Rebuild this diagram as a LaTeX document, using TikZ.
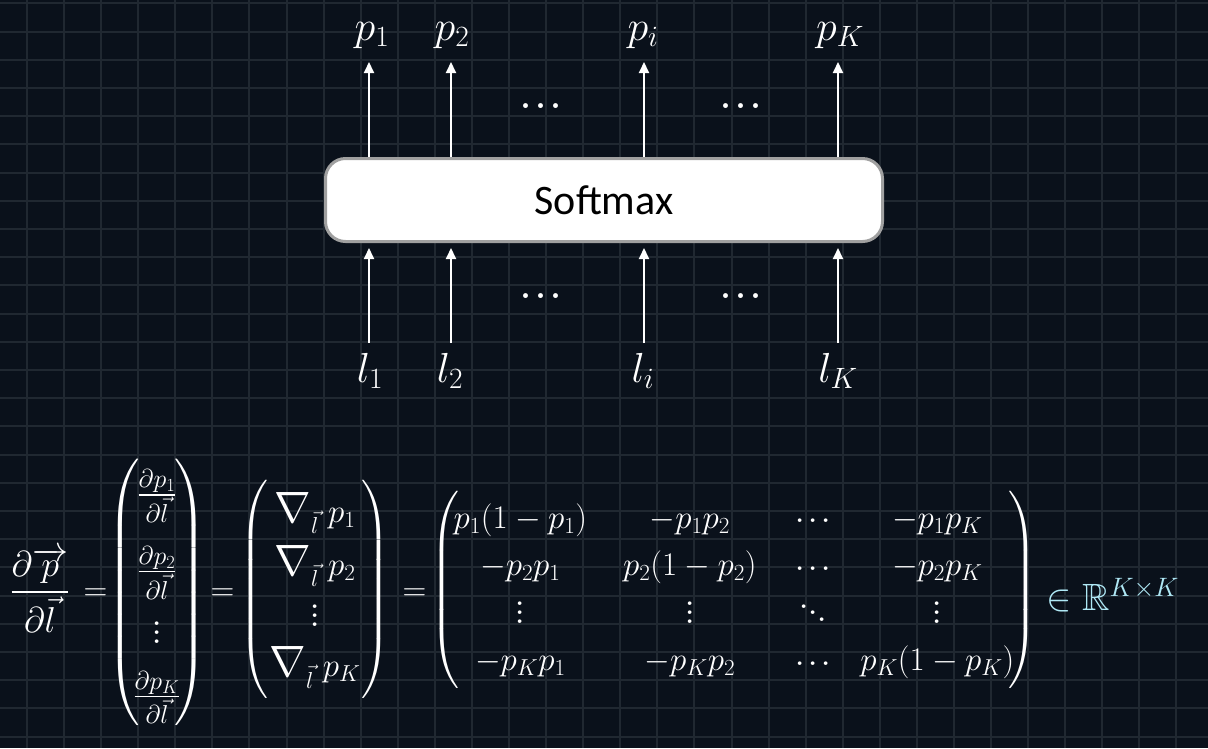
\RequirePackage{fix-cm}
\documentclass[tikz,border=0pt]{standalone}
\usepackage{amsmath,amssymb,graphicx}
\usepackage{fontspec}
\newfontfamily\calibri{Carlito}
\usetikzlibrary{arrows.meta}
\definecolor{bgc}{RGB}{10,17,27}
\definecolor{gridc}{RGB}{32,40,49}
\definecolor{boxborder}{RGB}{160,160,160}
\definecolor{cyanish}{RGB}{175,232,245}
\newcommand\dotrow[2]{\hbox{\fontsize{#1}{#1}\selectfont.\kern#2.\kern#2.}}
\newcommand\myvd{\vbox{\fontsize{45pt}{45pt}\selectfont\baselineskip=9pt\lineskiplimit=-20pt\kern2pt\hbox{.}\hbox{.}\hbox{.}}}
\newcommand\mycd{\mathinner{\raise5.5pt\dotrow{45pt}{1.5pt}}}
\newcommand\myddots{\mathinner{\fontsize{45pt}{45pt}\selectfont\raise15pt\hbox{.}\kern-2.5pt\raise8.5pt\hbox{.}\kern-2.5pt\raise2pt\hbox{.}}}
\newcommand\nab{\mathord{\scalebox{1.33}{$\nabla$}}}
\tikzset{
  gridline/.style={draw=gridc, line width=2pt},
  arr/.style={draw=white, line width=2pt, -{Triangle[length=11pt,width=10pt]}},
  lab/.style={text=white, inner sep=0pt, anchor=base, font=\fontsize{42}{50}\selectfont},
  dotlab/.style={text=white, inner sep=0pt},
  eqn/.style={text=white, inner sep=0pt, font=\fontsize{33}{40}\selectfont},
  smbox/.style={draw=boxborder, fill=white, line width=3pt, rounded corners=20pt,
    minimum width=557pt, minimum height=83pt, inner sep=0pt,
    font=\calibri\fontsize{42}{50}\selectfont, text=black}
}
\begin{document}
\begin{tikzpicture}[x=1pt,y=-1pt]
\useasboundingbox (0,0) rectangle (1208,748);
\fill[bgc] (0,0) rectangle (1208,748);
\foreach \k in {0,...,31} \draw[gridline] ({27+37.08*\k},0) -- ({27+37.08*\k},748);
\foreach \k in {0,...,26} \draw[gridline] (0,{3.3+28.2*\k}) -- (1208,{3.3+28.2*\k});

% Softmax box
\node[smbox] (sm) at (604,200) {Softmax};

% output labels
\node[lab] (p1) at (372,40) {$p_1$};
\node[lab] (p2) at (452,40) {$p_2$};
\node[lab] (pi) at (643,40) {$p_i$};
\node[lab] (pK) at (840,40) {$p_K$};
% input labels
\node[lab] (l1) at (370,382) {$l_1$};
\node[lab] (l2) at (450,382) {$l_2$};
\node[lab] (li) at (643,382) {$l_i$};
\node[lab] (lK) at (838,382) {$l_K$};

% dots
\node[dotlab] (dt1) at (541,106) {\dotrow{60pt}{0pt}};
\node[dotlab] (dt2) at (741,106) {\dotrow{60pt}{0pt}};
\node[dotlab] (db1) at (541,296) {\dotrow{60pt}{0pt}};
\node[dotlab] (db2) at (741,296) {\dotrow{60pt}{0pt}};

% arrow end coordinates
\coordinate (t1) at (369,62);
\coordinate (t2) at (451,62);
\coordinate (t3) at (644,62);
\coordinate (t4) at (838,62);
\coordinate (b1) at (369,343);
\coordinate (b2) at (451,343);
\coordinate (b3) at (644,343);
\coordinate (b4) at (838,343);
\foreach \i in {1,2,3,4} {
  \draw[arr] (sm.north -| t\i) -- (t\i);
  \draw[arr, shorten >=5pt] (b\i) -- (sm.south -| b\i);
}

% equation
\node[eqn, font=\fontsize{36}{42}\selectfont] (lhs) at (40,590)
  {$\displaystyle\frac{\partial\overrightarrow{p}}{\partial\vec{l}}$};
\node[eqn] (e1) at (91,592) {$\vphantom{(}=$};
\node[eqn, font=\fontsize{37}{44}\selectfont] (v1) at (157,592.5)
  {$\renewcommand\arraystretch{1.42}\left(\hspace{-11pt}\begin{array}{c}
    \frac{\partial p_1}{\partial\vec l}\\[14pt]
    \frac{\partial p_2}{\partial\vec l}\\
    \myvd\\
    \frac{\partial p_K}{\partial\vec l}
  \end{array}\hspace{-11pt}\right)$};
\node[eqn] (e2) at (218,592) {$\vphantom{(}=$};
\node[eqn] (v2) at (315,589.5)
  {$\renewcommand\arraystretch{1.27}\left(\hspace{-4pt}\begin{array}{c}
    \nab_{\vec l}\;p_1\\[2pt]
    \nab_{\vec l}\;p_2\\
    \myvd\\
    \nab_{\vec l}\;p_K
  \end{array}\hspace{-4pt}\right)$};
\node[eqn] (e3) at (410,592) {$\vphantom{(}=$};
\node[eqn] (mat) at (734,590)
  {$\renewcommand\arraystretch{1.19}\left(\hspace{-6pt}\begin{array}{@{}c@{\hspace{36pt}}c@{\hspace{38pt}}c@{\hspace{29pt}}c@{}}
    p_1(1-p_1) & -p_1p_2 & \mycd & -p_1p_K\\
    -p_2p_1 & p_2(1-p_2) & \mycd & -p_2p_K\\
    \myvd & \myvd & \myddots & \myvd\\
    -p_Kp_1 & -p_Kp_2 & \mycd & p_K(1-p_K)
  \end{array}\hspace{-6pt}\right)$};
\node[anchor=base west, inner sep=0pt, text=cyanish, font=\fontsize{38}{44}\selectfont] (inR) at (1046,610)
  {$\in\mathbb{R}^{K\times K}$};
\end{tikzpicture}
\end{document}
